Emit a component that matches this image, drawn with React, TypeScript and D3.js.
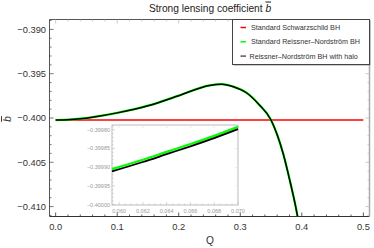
import React, { useEffect, useRef } from 'react';
import * as d3 from 'd3';

// Schwarzschild reference value (constant)
const schwQ = [0, 0.5];
const schwB = [-0.40023, -0.40023];

// Main curve: RN BH with halo, and standard RN (almost identical)
const mainQ = [0, 0.02, 0.04, 0.06, 0.07, 0.1, 0.15, 0.2, 0.25, 0.27, 0.29, 0.31, 0.33, 0.35, 0.36, 0.37, 0.38, 0.39, 0.396];
const haloB = [-0.40023, -0.40019, -0.40009, -0.39991, -0.3998, -0.39942, -0.39862, -0.39748, -0.39632, -0.39618, -0.3965, -0.39715, -0.39845, -0.40023, -0.4019, -0.4041, -0.4069, -0.41, -0.4122];
const rnB = [-0.40023, -0.40019, -0.40008, -0.3999, -0.39979, -0.39941, -0.39861, -0.39747, -0.39631, -0.39617, -0.39649, -0.39714, -0.39844, -0.40022, -0.40189, -0.40409, -0.40689, -0.40999, -0.4122];

// Inset zoom
const insetQ = [0.0594, 0.062, 0.064, 0.066, 0.068, 0.07];
const insetRN = [-0.399905, -0.39988, -0.399859, -0.399838, -0.399816, -0.399792];
const insetHalo = [-0.399911, -0.399886, -0.399865, -0.399844, -0.399822, -0.399798];

const xTicks = [0, 0.1, 0.2, 0.3, 0.4, 0.5];
const yTicks = [-0.39, -0.395, -0.4, -0.405, -0.41];
const insetXTicks = [0.06, 0.062, 0.064, 0.066, 0.068, 0.07];
const insetYTicks = [-0.3998, -0.39985, -0.3999, -0.39995, -0.4];

const legendItems = [
  { label: 'Standard Schwarzschild BH', color: '#ff0000' },
  { label: 'Standard Reissner\u2013Nordstr\u00f6m BH', color: '#00ff00' },
  { label: 'Reissner\u2013Nordstr\u00f6m BH with halo', color: '#000000' },
];

const FONT = "'Liberation Sans', Arial, sans-serif";

const App: React.FC = () => {
  const svgRef = useRef<SVGSVGElement>(null);

  useEffect(() => {
    if (!svgRef.current) return;
    const svg = d3.select(svgRef.current);
    svg.selectAll('*').remove();

    const left = 49.5, right = 369.5, top = 19.5, bottom = 216.5;
    const x = d3.scaleLinear().domain([-0.01, 0.51]).range([left, right]);
    const y = d3.scaleLinear().domain([-0.41112, -0.38888]).range([bottom, top]);

    svg.append('defs').append('clipPath').attr('id', 'plot-clip')
      .append('rect').attr('x', left).attr('y', top)
      .attr('width', right - left).attr('height', bottom - top);

    // Title
    const title = svg.append('text')
      .attr('x', 210).attr('y', 11.5)
      .attr('text-anchor', 'middle')
      .style('font-family', FONT).style('font-size', '10.2px').style('fill', '#222')
      .text('Strong lensing coefficient ');
    title.append('tspan').style('font-style', 'italic').style('text-decoration', 'overline').text('b');

    // Curves
    const plot = svg.append('g').attr('clip-path', 'url(#plot-clip)');
    const line = d3.line<[number, number]>().x(d => x(d[0])).y(d => y(d[1])).curve(d3.curveMonotoneX);

    plot.append('path')
      .attr('d', line(schwQ.map((q, i) => [q, schwB[i]] as [number, number])))
      .attr('fill', 'none').attr('stroke', '#ff0000').attr('stroke-width', 1.5);
    plot.append('path')
      .attr('d', line(mainQ.map((q, i) => [q, rnB[i]] as [number, number])))
      .attr('fill', 'none').attr('stroke', '#00ff00').attr('stroke-width', 2.3);
    plot.append('path')
      .attr('d', line(mainQ.map((q, i) => [q, haloB[i]] as [number, number])))
      .attr('fill', 'none').attr('stroke', '#000').attr('stroke-width', 1.5);

    // Frame
    const frame = svg.append('g');
    frame.append('line').attr('x1', left).attr('x2', right).attr('y1', bottom).attr('y2', bottom).attr('stroke', '#333');
    frame.append('line').attr('x1', left).attr('x2', left).attr('y1', top).attr('y2', bottom).attr('stroke', '#555');
    frame.append('line').attr('x1', left).attr('x2', right).attr('y1', top).attr('y2', top).attr('stroke', '#555');
    frame.append('line').attr('x1', right).attr('x2', right).attr('y1', top).attr('y2', bottom).attr('stroke', '#aaa').attr('stroke-width', 1.5);

    // X ticks (bottom + top)
    d3.range(0, 0.5001, 0.02).forEach(t => {
      const major = Math.abs(t * 10 - Math.round(t * 10)) < 1e-6;
      const len = major ? 4 : 2;
      frame.append('line').attr('x1', x(t)).attr('x2', x(t)).attr('y1', bottom).attr('y2', bottom - len).attr('stroke', '#333').attr('stroke-width', 0.8);
      frame.append('line').attr('x1', x(t)).attr('x2', x(t)).attr('y1', top).attr('y2', top + len).attr('stroke', '#bbb').attr('stroke-width', 0.8);
    });
    xTicks.forEach(t => {
      frame.append('text').attr('x', x(t)).attr('y', 229.5).attr('text-anchor', 'middle')
        .style('font-family', FONT).style('font-size', '9.3px').style('fill', '#333')
        .text(d3.format('.1f')(t));
    });

    // Y ticks (left + right)
    d3.range(-0.411, -0.3889, 0.001).forEach(t => {
      const v = Math.round(t * 1000) / 1000;
      if (y(v) < top - 0.1 || y(v) > bottom + 0.1) return;
      const major = Math.abs(v * 200 - Math.round(v * 200)) < 1e-6;
      const len = major ? 4 : 2;
      frame.append('line').attr('y1', y(v)).attr('y2', y(v)).attr('x1', left).attr('x2', left + len).attr('stroke', '#555').attr('stroke-width', 0.8);
      frame.append('line').attr('y1', y(v)).attr('y2', y(v)).attr('x1', right).attr('x2', right - len).attr('stroke', '#bbb').attr('stroke-width', 0.8);
    });
    yTicks.forEach(t => {
      frame.append('text').attr('x', 46).attr('y', y(t)).attr('dy', '0.35em').attr('text-anchor', 'end')
        .style('font-family', FONT).style('font-size', '9.3px').style('fill', '#333')
        .text(d3.format('.3f')(t).replace('-', '\u2212'));
    });

    // Axis labels
    svg.append('text').attr('x', 210).attr('y', 243.5).attr('text-anchor', 'middle')
      .style('font-family', FONT).style('font-size', '10.2px').style('fill', '#333').text('Q');
    svg.append('text').attr('transform', 'translate(11,119) rotate(-90)').attr('text-anchor', 'middle')
      .style('font-family', FONT).style('font-size', '10px').style('font-style', 'italic')
      .style('text-decoration', 'overline').style('fill', '#333').text('b');

    // Legend
    const lg = svg.append('g');
    lg.append('rect').attr('x', 233.5).attr('y', 20.5).attr('width', 137).attr('height', 45).attr('fill', '#999');
    lg.append('rect').attr('x', 232.5).attr('y', 19.5).attr('width', 137).attr('height', 45)
      .attr('fill', '#fff').attr('stroke', '#444').attr('stroke-width', 1);
    legendItems.forEach((item, i) => {
      const yy = 27.5 + i * 14.3;
      lg.append('line').attr('x1', 240.5).attr('x2', 246).attr('y1', yy).attr('y2', yy)
        .attr('stroke', item.color === '#000000' ? '#555' : item.color).attr('stroke-width', 1.5);
      lg.append('text').attr('x', i === 2 ? 249.5 : 251).attr('y', yy).attr('dy', '0.35em')
        .style('font-family', FONT).style('font-size', '7.2px').style('fill', '#333')
        .text(item.label);
    });

    // Inset
    const il = 112, ir = 238, it = 125, ib = 205;
    const ix = d3.scaleLinear().domain([0.0594, 0.07]).range([il, ir]);
    const iy = d3.scaleLinear().domain([-0.400001, -0.399787]).range([ib, it]);
    const inset = svg.append('g');
    inset.append('rect').attr('x', il).attr('y', it).attr('width', ir - il).attr('height', ib - it)
      .attr('fill', '#fff').attr('stroke', '#bbb').attr('stroke-width', 1);

    d3.range(0.0595, 0.07001, 0.0005).forEach(t => {
      const major = Math.abs(t * 500 - Math.round(t * 500)) < 1e-6;
      const len = major ? 3 : 1.5;
      inset.append('line').attr('x1', ix(t)).attr('x2', ix(t)).attr('y1', ib).attr('y2', ib - len).attr('stroke', '#bbb').attr('stroke-width', 0.6);
      inset.append('line').attr('x1', ix(t)).attr('x2', ix(t)).attr('y1', it).attr('y2', it + len).attr('stroke', '#ddd').attr('stroke-width', 0.6);
    });
    d3.range(-0.4, -0.39978, 0.00001).forEach(t => {
      const v = Math.round(t * 1e5) / 1e5;
      if (iy(v) < it) return;
      const major = Math.abs(v * 20000 - Math.round(v * 20000)) < 1e-6;
      const len = major ? 3 : 1.5;
      inset.append('line').attr('y1', iy(v)).attr('y2', iy(v)).attr('x1', il).attr('x2', il + len).attr('stroke', '#bbb').attr('stroke-width', 0.6);
      inset.append('line').attr('y1', iy(v)).attr('y2', iy(v)).attr('x1', ir).attr('x2', ir - len).attr('stroke', '#ddd').attr('stroke-width', 0.6);
    });
    insetXTicks.forEach(t => {
      inset.append('text').attr('x', ix(t)).attr('y', 212.5).attr('text-anchor', 'middle')
        .style('font-family', FONT).style('font-size', '5.5px').style('fill', '#999')
        .text(d3.format('.3f')(t));
    });
    insetYTicks.forEach(t => {
      inset.append('text').attr('x', 110).attr('y', iy(t)).attr('dy', '0.35em').attr('text-anchor', 'end')
        .style('font-family', FONT).style('font-size', '5.5px').style('fill', '#999')
        .text(d3.format('.5f')(t).replace('-', '\u2212'));
    });

    const iline = d3.line<[number, number]>().x(d => ix(d[0])).y(d => iy(d[1])).curve(d3.curveMonotoneX);
    inset.append('path')
      .attr('d', iline(insetQ.map((q, i) => [q, insetRN[i]] as [number, number])))
      .attr('fill', 'none').attr('stroke', '#00ff00').attr('stroke-width', 2.2);
    inset.append('path')
      .attr('d', iline(insetQ.map((q, i) => [q, insetHalo[i]] as [number, number])))
      .attr('fill', 'none').attr('stroke', '#000').attr('stroke-width', 1.8);
  }, []);

  return (
    <svg ref={svgRef} width={374} height={248}
      style={{ position: 'absolute', left: 0, top: 0, background: '#fff' }} />
  );
};

export default App;
